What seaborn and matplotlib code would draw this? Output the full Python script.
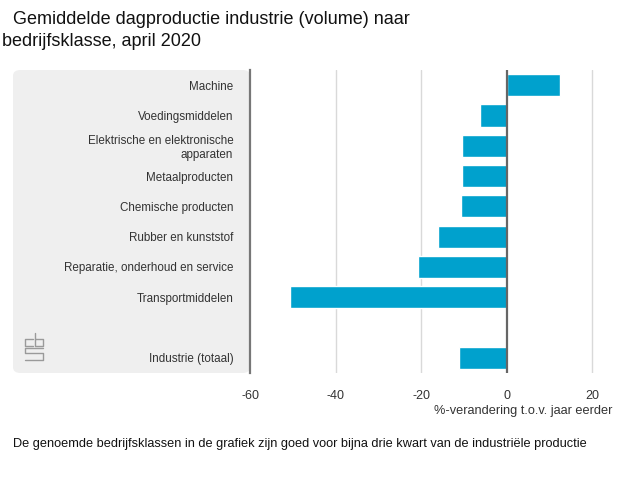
import numpy as np
import pandas as pd
from matplotlib import pyplot as plt
from matplotlib.patches import FancyBboxPatch
import seaborn as sns

# Data (% change vs. year earlier)
categories = [
    "Machine",
    "Voedingsmiddelen",
    "Elektrische en elektronische\napparaten",
    "Metaalproducten",
    "Chemische producten",
    "Rubber en kunststof",
    "Reparatie, onderhoud en service",
    "Transportmiddelen",
    " ",
    "Industrie (totaal)",
]
values = [12.5, -6.2, -10.5, -10.5, -10.8, -16.0, -20.7, -50.7, np.nan, -11.1]
ticks = [-60, -40, -20, 0, 20]

df = pd.DataFrame({"categorie": categories, "verandering": values})

sns.set_style("white")
plt.rcParams["font.family"] = ["Liberation Sans", "DejaVu Sans"]

fig = plt.figure(figsize=(6.4, 4.8), dpi=100)
ax = fig.add_axes([250 / 640, 1 - 373 / 480, (601 - 250) / 640, 303 / 480])

# Grey panel behind category labels
panel = FancyBboxPatch((13 / 640, 1 - 373 / 480), (250 - 13) / 640, 303 / 480,
                       boxstyle="round,pad=0,rounding_size=0.012",
                       transform=fig.transFigure, facecolor="#efefef",
                       edgecolor="none", zorder=-1)
fig.patches.append(panel)

sns.barplot(data=df, x="verandering", y="categorie", order=categories,
            orient="h", color="#00a1cd", saturation=1, width=0.73,
            errorbar=None, ax=ax, zorder=3)

ax.set_xlim(-60, 22)
ax.set_ylim(9.5, -0.5)
ax.set_xticks(ticks)
ax.set_xticklabels([str(t) for t in ticks])
ax.set_xlabel("")
ax.set_ylabel("")
ax.patch.set_alpha(0)

for t in [-40, -20, 20]:
    ax.axvline(t, color="#d9d9d9", lw=1, zorder=1)
ax.axvline(0, color="#666666", lw=1.6, zorder=4)

for s in ["top", "right", "bottom"]:
    ax.spines[s].set_visible(False)
ax.spines["left"].set_color("#777777")
ax.spines["left"].set_linewidth(1.6)

ax.tick_params(axis="y", length=0, pad=12, labelsize=8.4, labelcolor="#333333")
ax.tick_params(axis="x", length=0, pad=12, labelsize=9, labelcolor="#333333")

# Small CBS mark in the panel corner
logo = fig.add_axes([24 / 640, 1 - 361 / 480, 20 / 640, 28 / 480])
logo.set_xlim(0, 1)
logo.set_ylim(0, 1)
logo.axis("off")
lc = dict(color="#9a9a9a", lw=1, clip_on=False)
logo.plot([0.45, 0.05, 0.05, 0.45], [0.78, 0.78, 0.55, 0.55], **lc)
logo.plot([0.55, 0.55, 0.95, 0.95, 0.55], [1.0, 0.55, 0.55, 0.78, 0.78], **lc)
logo.plot([0.95, 0.05, 0.05, 0.95, 0.95, 0.05],
          [0.45, 0.45, 0.27, 0.27, 0.03, 0.03], **lc)

fig.text(13 / 640, 1 - 19 / 480, "Gemiddelde dagproductie industrie (volume) naar",
         fontsize=13, color="#111111", va="center", ha="left")
fig.text(2 / 640, 1 - 41 / 480, "bedrijfsklasse, april 2020",
         fontsize=13, color="#111111", va="center", ha="left")
fig.text(612 / 640, 1 - 411 / 480, "%-verandering t.o.v. jaar eerder",
         fontsize=9.2, color="#333333", va="center", ha="right")
fig.text(13 / 640, 1 - 444 / 480,
         "De genoemde bedrijfsklassen in de grafiek zijn goed voor bijna drie kwart van de industriële productie",
         fontsize=9.2, color="#111111", va="center", ha="left")

# right-align the two-line category label
fig.canvas.draw()
for lab in ax.get_yticklabels():
    lab.set_multialignment("right")

fig.savefig("out.png", dpi=100)
